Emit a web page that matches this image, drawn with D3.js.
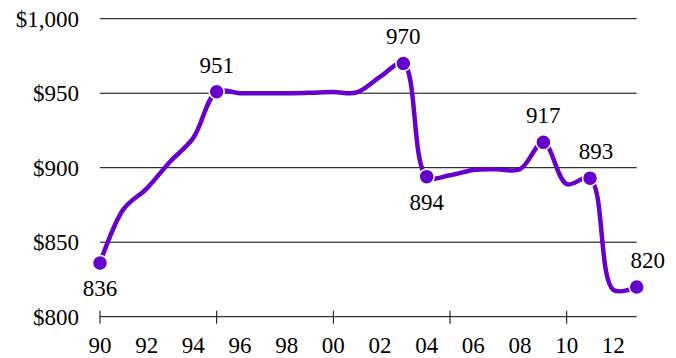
<!DOCTYPE html>
<html>
<head>
<meta charset="utf-8">
<script src="https://cdn.jsdelivr.net/npm/d3@7"></script>
<style>
  html, body { margin: 0; padding: 0; background: #fff; }
  svg { display: block; }
  svg text { font-family: "Liberation Serif", "Times New Roman", Times, "DejaVu Serif", serif; }
</style>
</head>
<body>
<svg id="chart" width="676" height="358"></svg>
<script>
// Annual price series, 1990–2013
const years  = [1990,1991,1992,1993,1994,1995,1996,1997,1998,1999,2000,2001,
                2002,2003,2004,2005,2006,2007,2008,2009,2010,2011,2012,2013];
const prices = [836, 872, 886, 904, 920, 951, 950, 950, 950, 950.3, 950.8, 950.5,
                961, 970, 894, 895, 898.5, 899, 899, 917, 889, 893, 818, 820];

// Highlighted years with a marker and value label
const markedYears = [1990, 1995, 2003, 2004, 2009, 2011, 2013];
const labelSide   = ["below", "above", "above", "below", "above", "above", "above"];

// Axis ticks
const yTicks      = [800, 850, 900, 950, 1000];
const xTickMarks  = [1990, 1995, 2000, 2005, 2010];
const xTickLabels = [1990, 1992, 1994, 1996, 1998, 2000, 2002, 2004, 2006, 2008, 2010, 2012];

const svg = d3.select("#chart");
const plot = { left: 100, right: 636.7, top: 18.7, bottom: 316.7 };
const purple = "#6600cc";
const serif = '"Liberation Serif", "Times New Roman", Times, "DejaVu Serif", serif';

const x = d3.scaleLinear().domain([1990, 2013]).range([plot.left, plot.right]);
const y = d3.scaleLinear().domain([800, 1000]).range([plot.bottom, plot.top]);

// Horizontal gridlines
svg.append("g").selectAll("line")
  .data(yTicks.filter(d => d > 800))
  .join("line")
  .attr("x1", plot.left).attr("x2", plot.right)
  .attr("y1", d => y(d)).attr("y2", d => y(d))
  .attr("stroke", "#000").attr("stroke-width", 1);

// Y labels
svg.append("g").selectAll("text")
  .data(yTicks)
  .join("text")
  .attr("x", 79)
  .attr("y", d => y(d) + 8)
  .attr("text-anchor", "end")
  .attr("font-family", serif)
  .attr("font-size", 23)
  .attr("fill", "#000")
  .text(d => "$" + d3.format(",")(d));

// X axis: baseline with tick marks every 5 years, labels every 2 years
const xAxis = svg.append("g").attr("transform", `translate(0,${plot.bottom})`);
xAxis.append("line")
  .attr("x1", plot.left).attr("x2", plot.right)
  .attr("stroke", "#000").attr("stroke-width", 1);
xAxis.selectAll("line.tick")
  .data(xTickMarks)
  .join("line")
  .attr("class", "tick")
  .attr("x1", d => x(d)).attr("x2", d => x(d))
  .attr("y1", -6).attr("y2", 7)
  .attr("stroke", "#000").attr("stroke-width", 1);
xAxis.selectAll("text")
  .data(xTickLabels)
  .join("text")
  .attr("x", d => x(d))
  .attr("y", 36)
  .attr("text-anchor", "middle")
  .attr("font-family", serif)
  .attr("font-size", 23)
  .attr("fill", "#000")
  .text(d => String(d % 100).padStart(2, "0"));

// Price line
const series = years.map((yr, i) => ({ year: yr, value: prices[i] }));
const line = d3.line()
  .x(d => x(d.year))
  .y(d => y(d.value))
  .curve(d3.curveCatmullRom.alpha(0.5));

svg.append("path")
  .datum(series)
  .attr("d", line)
  .attr("fill", "none")
  .attr("stroke", purple)
  .attr("stroke-width", 4.5)
  .attr("stroke-linejoin", "round")
  .attr("stroke-linecap", "round");

// Markers
const marked = markedYears.map((yr, i) => ({
  year: yr,
  value: prices[years.indexOf(yr)],
  side: labelSide[i]
}));

svg.append("g").selectAll("circle")
  .data(marked)
  .join("circle")
  .attr("cx", d => x(d.year))
  .attr("cy", d => y(d.value))
  .attr("r", 7.5)
  .attr("fill", purple)
  .attr("stroke", "#fff")
  .attr("stroke-width", 1.5);

// Value labels; the last two are nudged right to clear the descending line
svg.append("g").selectAll("text")
  .data(marked)
  .join("text")
  .attr("x", d => x(d.year) + (d.year === 2013 ? 11 : d.year === 2011 ? 6 : 0))
  .attr("y", d => y(d.value) + (d.side === "above" ? -19 : 33))
  .attr("text-anchor", "middle")
  .attr("font-family", serif)
  .attr("font-size", 23)
  .attr("fill", "#000")
  .text(d => Math.round(d.value));
</script>
</body>
</html>
